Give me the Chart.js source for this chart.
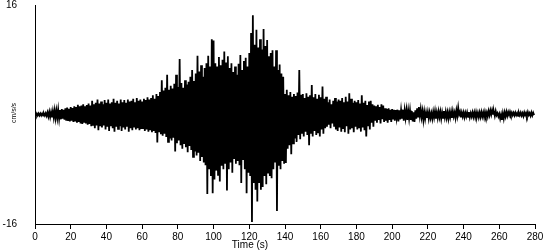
<!DOCTYPE html>
<html>
<head>
<meta charset="utf-8">
<script src="https://cdn.jsdelivr.net/npm/chart.js@4.4.0/dist/chart.umd.min.js"></script>
<style>
  html, body { margin: 0; padding: 0; background: #fff; }
  #wrap { width: 550px; height: 250px; }
</style>
</head>
<body>
<div id="wrap"><canvas id="chart"></canvas></div>
<script>
// time axis, seconds (one envelope reading per second)
const startTime = 0;
const xTicks = [0, 20, 40, 60, 80, 100, 120, 140, 160, 180, 200, 220, 240, 260, 280];
const yTicks = [-16, 16];

// upper peaks (cm/s/s), t = 0..279
const upperPeaks = [
  0.15,0.15,0.15,0.15,0.15,0.15,0.2,0.3,0.4,0.35,
  0.5,0.6,0.55,0.7,0.65,0.8,0.7,0.9,1.0,0.85,
  1.1,0.95,1.2,1.1,1.4,1.2,1.3,1.5,1.2,1.4,
  1.6,1.3,2.0,1.5,1.7,2.2,1.6,1.9,1.5,2.1,
  1.7,2.2,1.6,1.8,2.3,1.7,2.0,1.6,2.2,1.8,
  2.1,1.7,2.2,1.9,2.0,2.3,1.8,2.4,2.0,2.2,
  1.9,2.3,2.1,2.5,2.2,2.4,2.8,2.3,3.0,2.7,
  3.3,5.0,3.5,3.9,5.8,3.6,4.2,3.8,4.5,5.8,
  4.0,8.1,4.6,3.9,5.0,4.4,4.8,5.5,6.5,4.9,
  6.0,8.6,6.3,7.2,5.5,6.8,7.5,8.6,7.0,11.0,
  10.8,7.5,7.0,8.4,7.2,8.0,9.2,7.6,8.5,6.8,
  7.5,6.2,7.0,5.8,7.4,8.7,6.5,7.8,8.3,7.0,
  9.0,11.9,14.5,10.2,12.4,9.8,11.0,9.5,12.5,10.0,
  10.9,8.5,9.0,9.4,7.0,9.4,6.5,7.3,6.0,5.5,
  3.0,3.6,2.8,3.3,2.6,3.0,2.7,3.2,6.5,2.9,
  3.0,2.4,3.1,2.6,2.8,4.3,2.5,3.0,2.3,2.9,
  2.5,4.1,2.3,2.6,1.8,2.2,1.5,2.0,2.4,1.9,
  2.2,2.0,2.4,1.8,2.6,1.9,3.1,2.3,1.7,2.0,
  1.8,2.1,1.6,2.8,1.7,2.0,1.4,1.9,2.0,1.5,
  1.3,1.2,1.4,1.1,1.5,1.3,0.9,0.8,0.9,0.7,
  0.8,0.7,0.65,0.7,0.6,0.65,0.7,0.6,0.65,0.55,
  0.6,0.5,0.3,0.6,0.9,1.1,0.8,0.5,0.4,0.3,
  0.35,0.3,0.2,0.4,0.5,0.3,0.45,0.4,0.3,0.5,
  0.4,0.3,0.35,0.4,0.5,0.3,0.6,1.0,0.4,0.3,
  0.3,0.25,0.3,0.35,0.2,0.3,0.3,0.35,0.25,0.3,
  0.35,0.3,0.4,0.3,0.5,0.6,0.65,0.4,0.5,0.2,
  0.1,0.0,0.15,0.3,0.4,0.35,0.4,0.3,0.25,0.3,
  0.2,0.25,0.3,0.2,0.3,0.25,0.35,0.2,0.3,0.25
];

// lower peaks (cm/s/s), same seconds
const lowerPeaks = [
  -0.15,-0.15,-0.15,-0.15,-0.15,-0.15,-0.2,-0.3,-0.35,-0.4,
  -0.45,-0.55,-0.5,-0.6,-0.7,-0.6,-0.75,-0.9,-0.8,-1.0,
  -0.9,-1.1,-1.0,-1.2,-1.1,-1.3,-1.4,-1.2,-1.3,-1.5,
  -1.4,-1.7,-1.5,-2.0,-1.6,-2.3,-1.7,-1.9,-1.6,-2.2,
  -1.8,-2.4,-1.7,-2.0,-2.5,-1.8,-2.1,-1.7,-2.4,-1.9,
  -2.2,-1.8,-2.5,-2.0,-2.3,-1.9,-2.2,-2.0,-2.3,-2.1,
  -2.0,-2.4,-2.2,-2.5,-2.3,-2.6,-2.4,-2.7,-4.1,-2.6,
  -2.9,-3.1,-2.8,-3.3,-4.0,-3.5,-3.8,-3.4,-5.4,-4.2,
  -3.8,-4.5,-5.0,-4.3,-4.8,-5.5,-4.6,-5.2,-6.2,-5.4,
  -6.0,-5.6,-6.8,-6.2,-7.0,-7.4,-11.6,-8.0,-9.0,-11.5,
  -9.5,-8.2,-8.8,-9.8,-7.5,-8.0,-7.2,-11.1,-8.0,-7.0,
  -8.5,-6.5,-7.2,-6.8,-7.4,-10.0,-6.5,-8.0,-11.5,-8.5,
  -9.0,-15.7,-10.0,-11.0,-12.7,-10.0,-11.0,-10.6,-9.0,-10.2,
  -8.5,-9.0,-9.3,-8.0,-7.0,-14.1,-7.5,-8.0,-6.8,-7.2,
  -7.1,-5.0,-4.5,-5.8,-4.2,-3.5,-4.0,-3.0,-3.6,-2.8,
  -3.2,-2.5,-3.0,-4.5,-2.8,-3.2,-2.4,-3.0,-2.6,-3.2,
  -2.2,-2.8,-2.0,-1.8,-1.5,-2.0,-1.3,-1.8,-2.2,-2.4,
  -1.9,-2.5,-2.0,-2.6,-1.7,-2.8,-2.2,-2.0,-2.6,-1.8,
  -2.2,-2.0,-2.5,-1.9,-2.3,-3.2,-1.6,-2.2,-1.2,-1.8,
  -0.9,-1.2,-0.8,-1.3,-0.7,-1.1,-0.9,-1.2,-0.8,-1.1,
  -0.6,-0.9,-0.5,-1.0,-0.7,-0.6,-0.9,-0.5,-0.8,-0.6,
  -0.8,-1.0,-1.1,-0.6,-0.3,-0.2,-0.4,-0.8,-0.6,-0.5,
  -0.6,-0.5,-0.6,-0.4,-0.6,-0.5,-0.4,-0.6,-0.5,-0.4,
  -0.5,-0.6,-0.4,-0.5,-0.3,-0.5,-0.2,0.0,-0.4,-0.3,
  -0.4,-0.3,-0.35,-0.4,-0.3,-0.35,-0.4,-0.3,-0.4,-0.35,
  -0.3,-0.4,-0.2,-0.3,-0.1,0.0,0.1,-0.2,-0.1,-0.3,
  -0.6,-0.8,-0.6,-0.3,-0.2,-0.1,-0.05,-0.1,-0.15,-0.1,
  -0.2,-0.1,-0.15,-0.25,-0.1,-0.2,-0.1,-0.2,-0.15,-0.1
];

// trace: upper peak on the second, lower peak half a second later
const trace = [];
upperPeaks.forEach((u, i) => {
  trace.push({ x: startTime + i, y: u });
  trace.push({ x: startTime + i + 0.5, y: lowerPeaks[i] });
});

const FONT = '"Liberation Sans", Arial, sans-serif';

const axisTitles = {
  id: 'axisTitles',
  afterDraw(chart) {
    const ctx = chart.ctx;
    ctx.save();
    ctx.fillStyle = '#000';
    ctx.textAlign = 'center';
    ctx.textBaseline = 'middle';
    ctx.font = '10px ' + FONT;
    ctx.fillText('Time (s)', 250, 245);
    ctx.translate(14, 113);
    ctx.rotate(-Math.PI / 2);
    ctx.font = '7px ' + FONT;
    ctx.fillText('cm/s/s', 0, 0);
    ctx.restore();
  }
};

new Chart(document.getElementById('chart'), {
  type: 'line',
  data: {
    datasets: [{
      data: trace,
      borderColor: '#000',
      borderWidth: 1.8,
      borderJoinStyle: 'miter',
      pointRadius: 0,
      tension: 0,
      fill: false
    }]
  },
  options: {
    responsive: true,
    maintainAspectRatio: false,
    animation: false,
    events: [],
    layout: { padding: { top: 5, right: 15, left: 0, bottom: 0 } },
    plugins: { legend: { display: false }, tooltip: { enabled: false } },
    scales: {
      x: {
        type: 'linear',
        min: 0,
        max: 280,
        afterBuildTicks: s => { s.ticks = xTicks.map(v => ({ value: v })); },
        afterFit: s => { s.height = 26; s.paddingLeft = 0; s.paddingRight = 0; },
        ticks: { color: '#000', font: { family: FONT, size: 10 }, padding: 2, maxRotation: 0 },
        grid: { drawOnChartArea: false, drawTicks: true, tickLength: 5, color: '#000' },
        border: { display: true, color: '#000' }
      },
      y: {
        min: -16,
        max: 16,
        afterBuildTicks: s => { s.ticks = yTicks.map(v => ({ value: v })); },
        afterFit: s => { s.width = 35; s.paddingTop = 0; s.paddingBottom = 0; },
        ticks: { color: '#000', font: { family: FONT, size: 10 }, padding: 18 },
        grid: { display: false, drawTicks: false },
        border: { display: true, color: '#000' }
      }
    }
  },
  plugins: [axisTitles]
});
</script>
</body>
</html>
